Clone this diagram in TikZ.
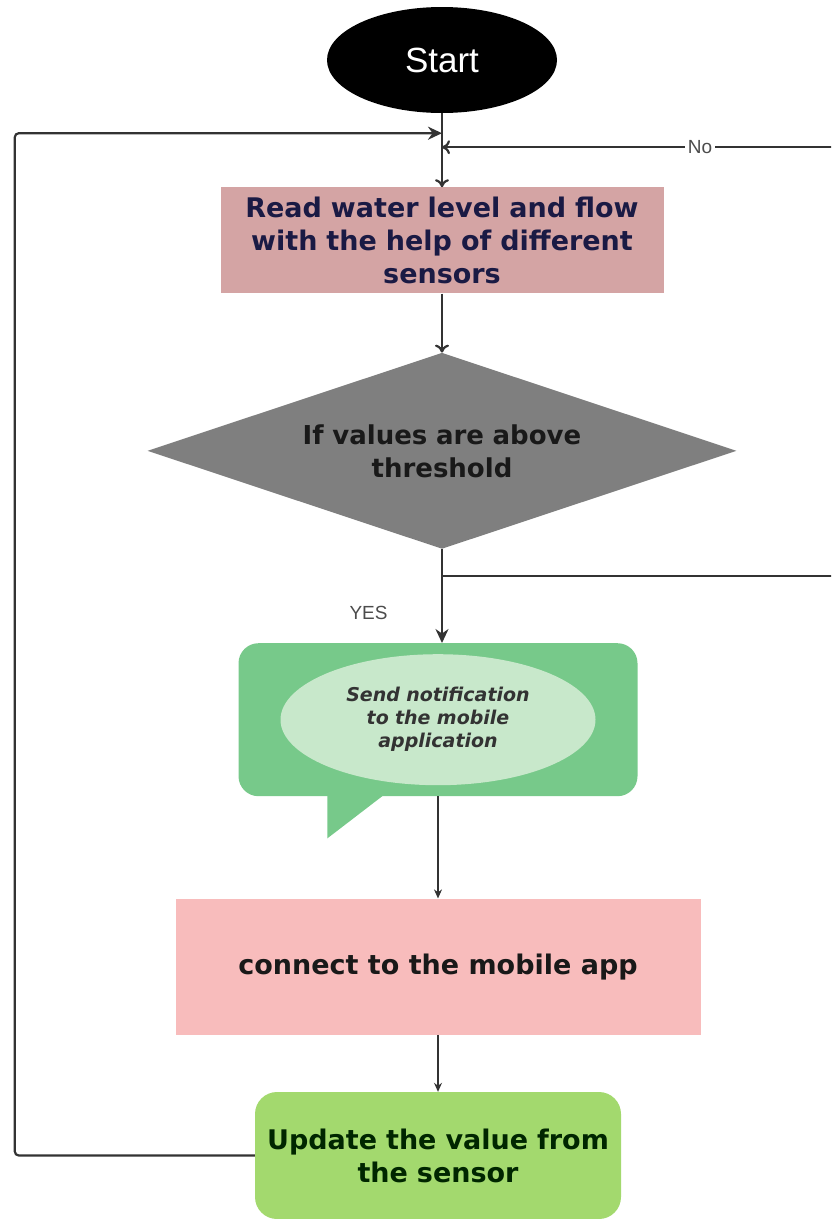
\documentclass[tikz,border=0pt]{standalone}
\usepackage{fontspec}
\setmainfont{DejaVu Sans}
\newfontfamily\labelfont{Liberation Sans}
\usepackage{xcolor}
\usepackage{tikz}
\usetikzlibrary{shapes,arrows,arrows.meta,positioning,calc}

\definecolor{readpink}{HTML}{D4A4A4}
\definecolor{diagray}{HTML}{7F7F7F}
\definecolor{bubblegreen}{HTML}{77C98A}
\definecolor{ovalgreen}{HTML}{C8E8CB}
\definecolor{apppink}{HTML}{F8BCBC}
\definecolor{updgreen}{HTML}{A3D96E}
\definecolor{linegray}{HTML}{333333}
\definecolor{navytext}{HTML}{1A1A44}

\begin{document}
\begin{tikzpicture}[
    x=1pt, y=-1pt,
    node distance=60pt,
    startnode/.style={ellipse, fill=black, text=white, minimum width=230pt, minimum height=106pt, inner sep=0pt, font=\labelfont\fontsize{35}{38}\selectfont},
    process/.style={rectangle, text centered, inner sep=0pt, font=\bfseries\fontsize{27}{33}\selectfont},
    decision/.style={diamond, aspect=3, fill=diagray, text width=290pt, text centered, minimum width=589pt, minimum height=196pt, inner sep=0pt, text=black!90, font=\bfseries\fontsize{26}{33}\selectfont},
    bubble/.style={rectangle, rounded corners=20pt, fill=bubblegreen, minimum width=399pt, minimum height=153pt},
    oval/.style={ellipse, fill=ovalgreen, minimum width=315pt, minimum height=131pt, inner sep=0pt, text width=200pt, text centered, text=black!80, font=\bfseries\itshape\fontsize{19}{23}\selectfont},
    edgelabel/.style={font=\labelfont\fontsize{19}{21}\selectfont, text=black!70},
    openarrow/.style={-{To[length=8pt, width=14pt]}, line width=2.2pt, draw=linegray},
    arrow/.style={-{Stealth[length=14pt, width=13pt]}, line width=2.2pt, draw=linegray},
    thinarrow/.style={-{Stealth[length=9pt, width=8pt]}, line width=1.1pt, draw=linegray}
]
\useasboundingbox (0,0) rectangle (831,1219);

% Main column
\node[startnode] (start) at (442,60) {Start};
\node[process, below=74pt of start, fill=readpink, minimum width=443pt, minimum height=106pt, text width=440pt, text=navytext] (read) {Read water level and flow\\with the help of different\\sensors};
\node[decision, below=59pt of read] (check) {If values are above\\threshold};
\node[bubble, below=94pt of check, xshift=-4pt] (notice) {};
\node[oval] (notify) at (notice) {Send notification\\to the mobile\\application};
\node[process, below=102pt of notice, fill=apppink, minimum width=525pt, minimum height=136pt, text=black!90] (connect) {connect to the mobile app};
\node[process, below=57pt of connect, fill=updgreen, rounded corners=22pt, minimum width=366pt, minimum height=127pt, text width=360pt, text=green!15!black] (update) {Update the value from\\the sensor};

% Tail of the speech bubble
\fill[bubblegreen] ($(notice.south west)+(89,-1)$) -- ++(56,0) -- ($(notice.south west)+(89,42)$) -- cycle;

% Join points on the top connector
\coordinate[below=20pt of start.south] (joinloop);
\coordinate[below=34pt of start.south] (joinno);
\coordinate[below=27pt of check.south] (split);
\coordinate (noturn) at ($(split)+(430,0)$);

% Arrows - main flow
\draw[openarrow] (start) -- (read);
\draw[openarrow] (read) -- (check);
\draw[arrow] (check.south) -- node[pos=0.68, left=50pt, edgelabel] {YES} (check.south |- notice.north);
\draw[thinarrow] (notice) -- (connect);
\draw[thinarrow] (connect) -- (update);

% Loop back from the last step
\draw[arrow, rounded corners=4pt] (update.west) -- ++(-240,0) |- (joinloop);

% No branch, running off the right edge
\begin{scope}
\clip (0,0) rectangle (831,1219);
\draw[openarrow] (split) -- (noturn) |- node[pos=0.7, fill=white, inner sep=3pt, edgelabel] {No} (joinno);
\end{scope}

\end{tikzpicture}
\end{document}
